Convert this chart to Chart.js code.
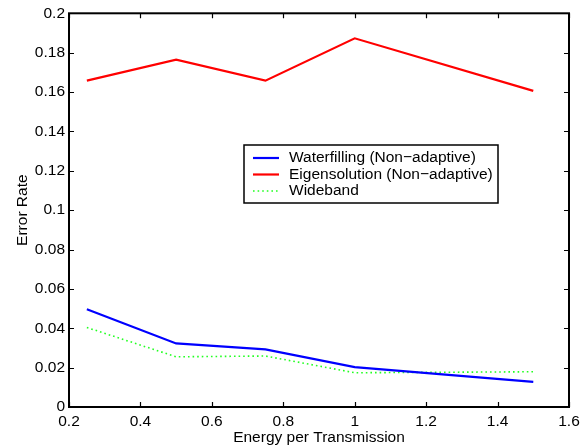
<!DOCTYPE html>
<html>
<head>
<meta charset="utf-8">
<script src="https://cdn.jsdelivr.net/npm/chart.js@4/dist/chart.umd.min.js"></script>
<style>
  body { margin: 0; background: #fff; }
  #wrap { width: 585px; height: 447px; }
</style>
</head>
<body>
<div id="wrap"><canvas id="line-chart" width="585" height="447"></canvas></div>
<script>
var energy = [0.25, 0.5, 0.75, 1.0, 1.5];
var waterfilling = [0.0497, 0.0323, 0.0293, 0.0203, 0.0128];
var eigensolution = [0.1658, 0.1765, 0.1658, 0.1873, 0.1606];
var wideband = [0.0404, 0.0255, 0.0259, 0.0174, 0.0179];

var xTicks = [0.2, 0.4, 0.6, 0.8, 1.0, 1.2, 1.4, 1.6];
var xTickLabels = ['0.2', '0.4', '0.6', '0.8', '1', '1.2', '1.4', '1.6'];
var yTicks = [0, 0.02, 0.04, 0.06, 0.08, 0.1, 0.12, 0.14, 0.16, 0.18, 0.2];
var yTickLabels = ['0', '0.02', '0.04', '0.06', '0.08', '0.1', '0.12', '0.14', '0.16', '0.18', '0.2'];

var FONT = "'Liberation Sans', Arial, Helvetica, sans-serif";
var FS = 15.5;

function pts(ys) {
  return energy.map(function (x, i) { return { x: x, y: ys[i] }; });
}

// frame + inward ticks on all four sides, like matlab
var framePlugin = {
  id: 'frame',
  afterDraw: function (chart) {
    var ctx = chart.ctx, a = chart.chartArea;
    var xs = chart.scales.x, ys = chart.scales.y;
    ctx.save();
    ctx.strokeStyle = '#000';
    ctx.lineWidth = 2;
    ctx.strokeRect(a.left, a.top, a.right - a.left, a.bottom - a.top);
    ctx.lineWidth = 1.2;
    ctx.beginPath();
    xTicks.forEach(function (v) {
      var px = Math.round(xs.getPixelForValue(v)) + 0.5;
      ctx.moveTo(px, a.bottom); ctx.lineTo(px, a.bottom - 5);
      ctx.moveTo(px, a.top); ctx.lineTo(px, a.top + 5);
    });
    yTicks.forEach(function (v) {
      var py = Math.round(ys.getPixelForValue(v)) + 0.5;
      ctx.moveTo(a.left, py); ctx.lineTo(a.left + 5, py);
      ctx.moveTo(a.right, py); ctx.lineTo(a.right - 5, py);
    });
    ctx.stroke();
    ctx.restore();
  }
};

// legend box inside the plot
var legendPlugin = {
  id: 'boxLegend',
  afterDraw: function (chart) {
    var ctx = chart.ctx;
    var x0 = 244, y0 = 145, w = 254, h = 58;
    ctx.save();
    ctx.fillStyle = '#fff';
    ctx.fillRect(x0, y0, w, h);
    ctx.strokeStyle = '#000';
    ctx.lineWidth = 1.5;
    ctx.strokeRect(x0, y0, w, h);
    ctx.font = FS + 'px ' + FONT;
    ctx.textBaseline = 'middle';
    chart.data.datasets.forEach(function (ds, i) {
      var cy = y0 + 13 + i * 16.5;
      ctx.beginPath();
      ctx.strokeStyle = ds.borderColor;
      ctx.lineWidth = ds.borderWidth;
      ctx.setLineDash(ds.borderDash || []);
      ctx.moveTo(253, cy); ctx.lineTo(279, cy);
      ctx.stroke();
      ctx.setLineDash([]);
      ctx.fillStyle = '#000';
      ctx.fillText(ds.label, 289, cy);
    });
    ctx.restore();
  }
};

new Chart(document.getElementById('line-chart'), {
  type: 'line',
  data: {
    datasets: [
      { label: 'Waterfilling (Non\u2212adaptive)', data: pts(waterfilling), borderColor: '#0000ff', borderWidth: 2.2, pointRadius: 0, fill: false, tension: 0 },
      { label: 'Eigensolution (Non\u2212adaptive)', data: pts(eigensolution), borderColor: '#ff0000', borderWidth: 2.2, pointRadius: 0, fill: false, tension: 0 },
      { label: 'Wideband', data: pts(wideband), borderColor: '#22ff22', borderWidth: 1.6, borderDash: [1.6, 3], pointRadius: 0, fill: false, tension: 0 }
    ]
  },
  options: {
    responsive: false,
    animation: false,
    layout: { padding: { top: 12, right: 16, left: 0, bottom: 0 } },
    plugins: { legend: { display: false }, tooltip: { enabled: false } },
    scales: {
      x: {
        type: 'linear', min: 0.2, max: 1.6,
        afterBuildTicks: function (s) { s.ticks = xTicks.map(function (v) { return { value: v }; }); },
        afterFit: function (s) { s.height = 40; },
        grid: { display: false, drawTicks: false },
        border: { display: false },
        ticks: {
          color: '#000', padding: 5, maxRotation: 0, autoSkip: false,
          font: { family: FONT, size: FS },
          callback: function (v, i) { return xTickLabels[i]; }
        },
        title: { display: true, text: 'Energy per Transmission', color: '#000', font: { family: FONT, size: FS }, padding: { top: 0, bottom: 0 } }
      },
      y: {
        type: 'linear', min: 0, max: 0.2,
        afterBuildTicks: function (s) { s.ticks = yTicks.map(function (v) { return { value: v }; }); },
        afterFit: function (s) { s.width = 69; },
        grid: { display: false, drawTicks: false },
        border: { display: false },
        ticks: {
          color: '#000', padding: 4, autoSkip: false,
          font: { family: FONT, size: FS },
          callback: function (v, i) { return yTickLabels[i]; }
        },
        title: { display: true, text: 'Error Rate', color: '#000', font: { family: FONT, size: FS }, padding: { top: 13, bottom: 0 } }
      }
    }
  },
  plugins: [framePlugin, legendPlugin]
});
</script>
</body>
</html>
